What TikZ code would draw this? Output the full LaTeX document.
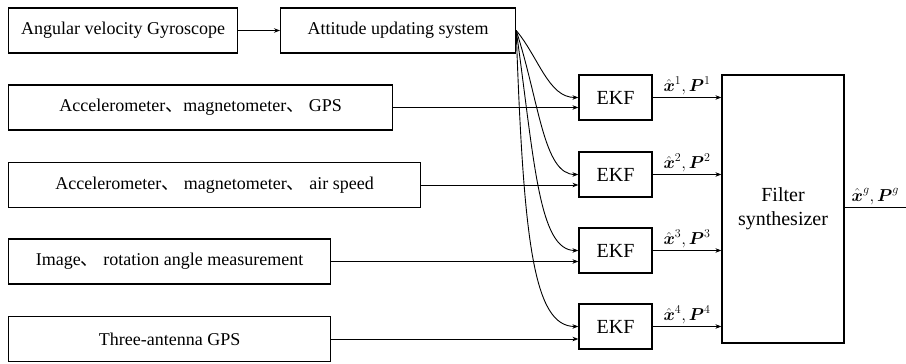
\documentclass[tikz,border=0pt]{standalone}
\usepackage{amsmath}
\usepackage{fontspec}
\usetikzlibrary{arrows.meta}
\setmainfont{Liberation Serif}
\newfontfamily\cjk{Noto Sans CJK SC}
\newcommand{\dun}{{\cjk 、}}
\tikzstyle{block}=[draw,rectangle,line width=1.2pt,anchor=west,minimum height=45pt,inner sep=0pt,font=\rmfamily\fontsize{18}{21}\selectfont]

\begin{document}
\begin{tikzpicture}[x=1pt,y=1pt,line width=0.9pt,>={Stealth[length=6pt,width=4.5pt]}]
\tikzstyle{ekf}=[draw,rectangle,line width=1.2pt,minimum width=73pt,minimum height=45pt,inner sep=0pt,font=\rmfamily\fontsize{20}{24}\selectfont]
\tikzstyle{estim}=[above,inner sep=2pt,font=\fontsize{18}{21}\selectfont]
\useasboundingbox (0,0) rectangle (906,364);
  \foreach \place/\name/\len/\txt in {{(8,333.5)/gyro/229/Angular velocity Gyroscope},
                            {(280,333.5)/att/235/Attitude updating system},
                            {(8,256.5)/acc/384/Accelerometer\dun magnetometer\dun{} GPS},
                            {(8,179)/air/412/Accelerometer\dun{} magnetometer\dun{} air speed},
                            {(8,102.5)/img/322/Image\dun{} rotation angle measurement},
                            {(8,25)/ant/322/Three-antenna GPS}}
    \node[block,minimum width=\len pt] (\name) at \place {\txt};
  \foreach \place/\name in {{(615.5,266.5)/ekf1},
                            {(615.5,189.5)/ekf2},
                            {(615.5,113.5)/ekf3},
                            {(615.5,37.5)/ekf4}}
    \node[ekf] (\name) at \place {EKF};
  \node[draw,rectangle,line width=1.2pt,minimum width=122pt,minimum height=268pt,align=center,
        font=\rmfamily\fontsize{20}{24}\selectfont] (filt) at (783,155) {Filter\\synthesizer};
  \coordinate (out) at (906,157);

  \draw[->] (gyro) -- (att);
  \foreach \source/\dest in {acc/ekf1,air/ekf2,img/ekf3,ant/ekf4}
      \draw[->] (\source.east) -- (\source.east -| \dest.west);
  \foreach \dest/\ang/\dout/\din in {ekf1/-50/35/30,ekf2/-72/75/35,ekf3/-82/130/40,ekf4/-88/210/45}
      \draw[->] (att.east) to[out=\ang,in=180,out distance=\dout pt,in distance=\din pt] (\dest.west);
  \foreach \n in {1,2,3,4}
      \draw[->] (ekf\n.east) -- node[estim] {$\hat{\boldsymbol{x}}^{\n},\boldsymbol{P}^{\n}$} (ekf\n.east -| filt.west);
  \draw (filt.east |- out) -- node[estim] {$\hat{\boldsymbol{x}}^{g},\boldsymbol{P}^{g}$} (out);
\end{tikzpicture}
\end{document}
